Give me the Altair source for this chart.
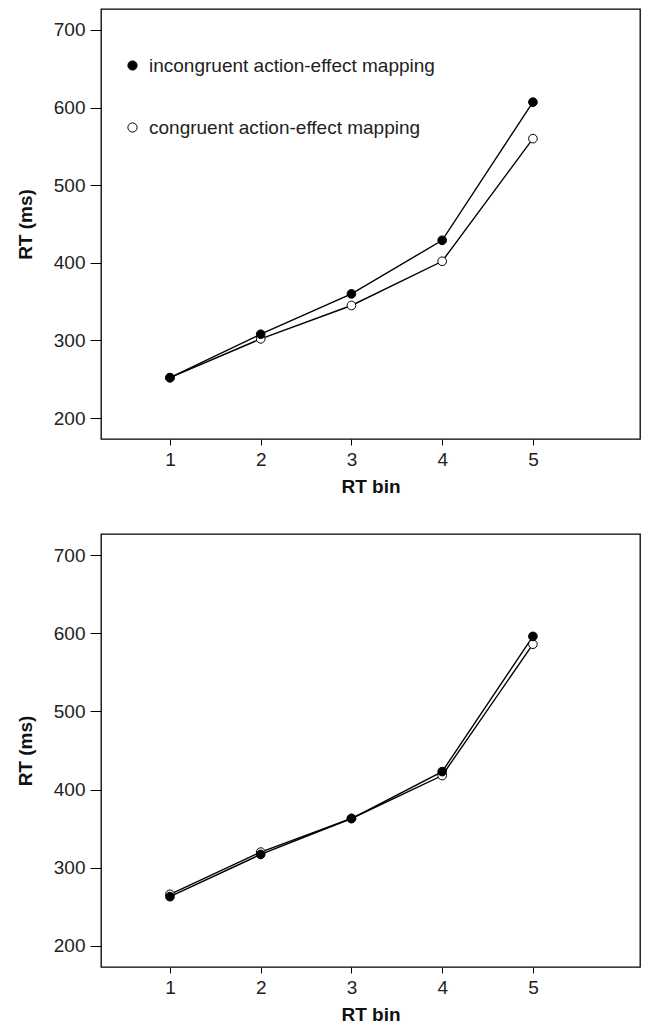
import altair as alt
import pandas as pd

bins = [1, 2, 3, 4, 5]
conditions = ["congruent action-effect mapping", "incongruent action-effect mapping"]
top_incongruent = [252, 308, 360, 429, 607]
top_congruent = [252, 302, 345, 402, 560]
bottom_incongruent = [263, 317, 363, 423, 596]
bottom_congruent = [266, 320, 363, 418, 586]
y_ticks = [200, 300, 400, 500, 600, 700]
x_ticks = [1, 2, 3, 4, 5]

FONT = "Liberation Sans"
FS = 19


def make_df(inc, con):
    rows = []
    for b, v in zip(bins, con):
        rows.append({"bin": b, "rt": v, "cond": conditions[0]})
    for b, v in zip(bins, inc):
        rows.append({"bin": b, "rt": v, "cond": conditions[1]})
    return pd.DataFrame(rows)


def panel(df, show_legend, height):
    x = alt.X("bin:Q", scale=alt.Scale(domain=[0.24, 6.18], nice=False, zero=False),
              axis=alt.Axis(values=x_ticks, title="RT bin", grid=False, domain=False,
                            tickSize=6, tickColor="black", tickWidth=1,
                            labelFontSize=FS, labelColor="#222", labelPadding=5, labelFont=FONT,
                            titleFontSize=FS, titleFont=FONT, titleFontWeight="bold",
                            titleColor="#111", titlePadding=8))
    y = alt.Y("rt:Q", scale=alt.Scale(domain=[173, 727], nice=False, zero=False),
              axis=alt.Axis(values=y_ticks, title="RT (ms)", grid=False, domain=False,
                            tickSize=11, tickColor="black", tickWidth=1,
                            labelFontSize=FS, labelColor="#222", labelPadding=5, labelFont=FONT,
                            titleFontSize=FS, titleFont=FONT, titleFontWeight="bold",
                            titleColor="#111", titlePadding=18))
    lines = alt.Chart(df).mark_line(color="black", strokeWidth=1.4).encode(
        x=x, y=y, detail="cond:N")
    fill_kwargs = dict(scale=alt.Scale(domain=[conditions[1], conditions[0]],
                                       range=["black", "white"]))
    if show_legend:
        leg = alt.Legend(title=None, orient="none", legendX=22, legendY=47,
                         labelFontSize=FS, labelFont=FONT, labelColor="#222",
                         labelOffset=7, rowPadding=42, symbolSize=85, labelLimit=0,
                         symbolStrokeColor="black", symbolStrokeWidth=1,
                         symbolType="circle")
        fill = alt.Fill("cond:N", legend=leg, **fill_kwargs)
    else:
        fill = alt.Fill("cond:N", legend=None, **fill_kwargs)
    points = alt.Chart(df).mark_point(shape="circle", filled=False, stroke="black",
                                      strokeWidth=1, size=75, opacity=1, fillOpacity=1).encode(
        x=x, y=y, fill=fill)
    return alt.layer(lines, points).properties(width=539, height=height)


top = panel(make_df(top_incongruent, top_congruent), True, 430)
bottom = panel(make_df(bottom_incongruent, bottom_congruent), False, 433)

chart = alt.vconcat(top, bottom, spacing=36).properties(
    padding={"left": 7, "top": 0, "right": 0, "bottom": 0},
    background="white",
).configure_view(stroke="black", strokeWidth=1.3, fill="white")

chart.save("out.html", embed_options={"renderer": "svg", "actions": False})
